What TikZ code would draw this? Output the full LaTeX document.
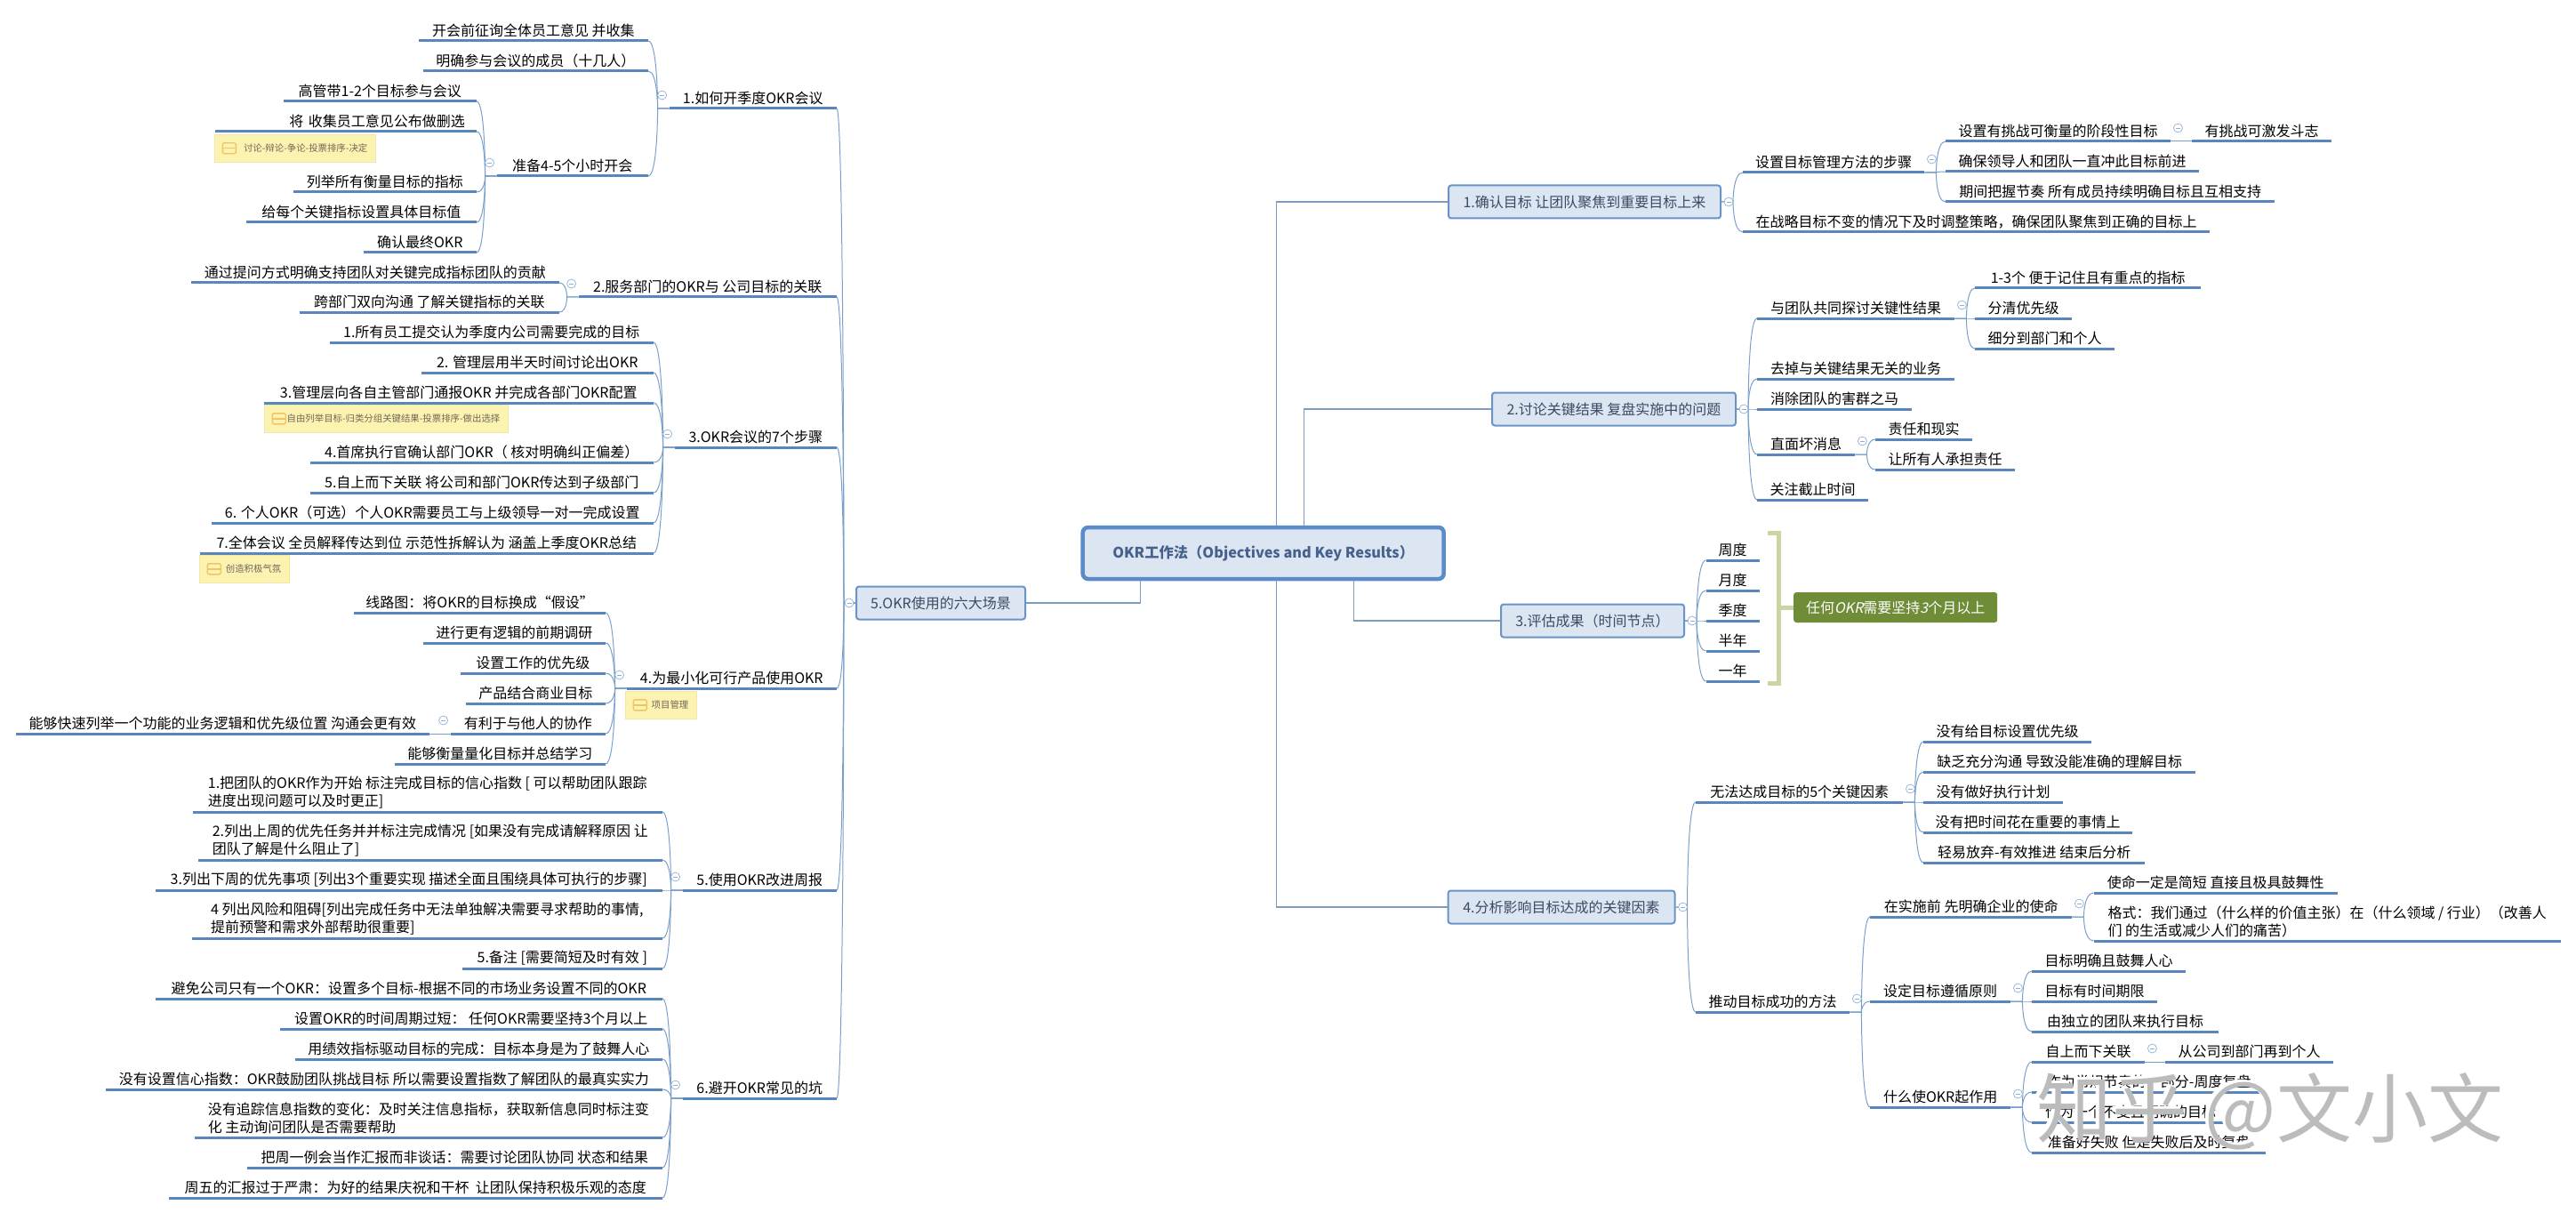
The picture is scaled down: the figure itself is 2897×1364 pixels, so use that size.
\documentclass[tikz,border=0pt]{standalone}
\usepackage{fontspec}
\setmainfont{Noto Sans CJK SC}
\newfontfamily\slantfont{Noto Sans CJK SC}[FakeSlant=0.2]
\definecolor{underl}{HTML}{5A86BE}
\definecolor{linkc}{HTML}{7A9FCA}
\definecolor{rootc}{HTML}{7E9CBF}
\definecolor{boxfill}{HTML}{DCE6F3}
\definecolor{boxline}{HTML}{6A93C6}
\definecolor{rootline}{HTML}{5B8BC9}
\definecolor{boxtext}{HTML}{3B4A63}
\definecolor{roottext}{HTML}{46618C}
\definecolor{notefill}{HTML}{FDF3B0}
\definecolor{noteline}{HTML}{F3E7A5}
\definecolor{notetext}{HTML}{6E675A}
\definecolor{noteicon}{HTML}{EFC468}
\definecolor{foldc}{HTML}{8FB0D6}
\definecolor{bracketc}{HTML}{C9D6A3}
\definecolor{summaryc}{HTML}{6F8C37}
\definecolor{markc}{HTML}{BCBCBC}

\begin{document}
\begin{tikzpicture}[x=1pt, y=-1pt,
  leaf/.style={inner xsep=13, inner ysep=4, text=black, font=\fontsize{16}{20}\selectfont,
    append after command={\pgfextra{\draw[line width=3, underl] (\tikzlastnode.south west) -- (\tikzlastnode.south east);}}},
  leafl/.style={leaf, anchor=south east},
  leafr/.style={leaf, anchor=south west},
  w/.style={minimum width=#1},
  topic/.style={draw=boxline, fill=boxfill, line width=2, rounded corners=3, minimum height=37,
    text=boxtext, font=\fontsize{16}{20}\selectfont},
  rootbox/.style={draw=rootline, fill=boxfill, line width=4.5, rounded corners=6, minimum width=406, minimum height=58,
    text=roottext, font=\fontsize{16.3}{20}\selectfont\bfseries},
  notebox/.style={anchor=north west, draw=noteline, fill=notefill, line width=.6, minimum height=31, inner xsep=9, inner ysep=0,
    align=right, text=notetext, font=\fontsize{10.4}{13}\selectfont,
    path picture={\draw[noteicon, line width=1.4, rounded corners=1.5] ([shift={(9,-6)}]path picture bounding box.west) rectangle ([shift={(24,6)}]path picture bounding box.west);
      \draw[noteicon, line width=1.4] ([xshift=9]path picture bounding box.west) -- ([xshift=24]path picture bounding box.west);}},
  fold/.style={circle, draw=foldc, fill=white, line width=.7, minimum size=10, inner sep=0,
    path picture={\draw[foldc, line width=.7] ([xshift=2.5]path picture bounding box.west) -- ([xshift=-2.5]path picture bounding box.east);}},
  link/.style={draw=linkc, line width=1},
  tol/.style={link, to path={-- ([xshift=-13]\tikztostart) .. controls ([xshift=-13]\tikztostart) and ([xshift=-13]\tikztostart |- \tikztotarget) .. (\tikztotarget)}},
  tor/.style={link, to path={-- ([xshift=13]\tikztostart) .. controls ([xshift=13]\tikztostart) and ([xshift=13]\tikztostart |- \tikztotarget) .. (\tikztotarget)}},
  rootlink/.style={draw=rootc, line width=1.2},
  bracket/.style={draw=bracketc, line width=5},
]
  \useasboundingbox (0,0) rectangle (2897,1364);

  \node[rootbox] (root) at (1420.7,622) {OKR工作法（Objectives and Key Results）};

  \node[topic, w=306] (N1) at (1782,227) {1.确认目标 让团队聚焦到重要目标上来};
  \node[topic, w=274] (N2) at (1815,460) {2.讨论关键结果 复盘实施中的问题};
  \node[topic, w=206] (N3) at (1791,698) {3.评估成果（时间节点）};
  \node[topic, w=255] (N4) at (1756,1020) {4.分析影响目标达成的关键因素};
  \node[topic, w=190] (N5) at (1058,678) {5.OKR使用的六大场景};

  \node[leafl, w=188] (Q1) at (941,122) {1.如何开季度OKR会议};
  \node[leafl, w=258] (Q1a) at (729,46) {开会前征询全体员工意见 并收集};
  \node[leafl, w=253] (Q1b) at (729,80) {明确参与会议的成员（十几人）};
  \node[leafl, w=170] (Q1c) at (729,198) {准备4-5个小时开会};
  \node[leafl, w=217] (Q1c1) at (536,114) {高管带1-2个目标参与会议};
  \node[leafl, text width=268, align=right] (Q1c2) at (536,148) {将 收集员工意见公布做删选};
  \node[notebox, text width=163] (T1) at (241,151) {讨论-辩论-争论-投票排序-决定};
  \node[leafl, w=206] (Q1c3) at (536,216) {列举所有衡量目标的指标};
  \node[leafl, w=259] (Q1c4) at (536,250) {给每个关键指标设置具体目标值};
  \node[leafl, w=127] (Q1c5) at (536,284) {确认最终OKR};

  \node[leafl, w=290] (Q2) at (941,334) {2.服务部门的OKR与 公司目标的关联};
  \node[leafl, w=414] (Q2a) at (629,318) {通过提问方式明确支持团队对关键完成指标团队的贡献};
  \node[leafl, w=292] (Q2b) at (629,351) {跨部门双向沟通 了解关键指标的关联};

  \node[leafl, w=182] (Q3) at (941,503) {3.OKR会议的7个步骤};
  \node[leafl, w=364] (Q3a) at (735,385) {1.所有员工提交认为季度内公司需要完成的目标};
  \node[leafl, w=261] (Q3b) at (735,419) {2. 管理层用半天时间讨论出OKR};
  \node[leafl, w=438] (Q3c) at (735,453) {3.管理层向各自主管部门通报OKR 并完成各部门OKR配置};
  \node[notebox, text width=256] (T2) at (297,455) {自由列举目标-归类分组关键结果-投票排序-做出选择};
  \node[leafl, w=386] (Q3d) at (735,520) {4.首席执行官确认部门OKR（ 核对明确纠正偏差）};
  \node[leafl, w=386] (Q3e) at (735,554) {5.自上而下关联 将公司和部门OKR传达到子级部门};
  \node[leafl, w=497] (Q3f) at (735,588) {6. 个人OKR（可选）个人OKR需要员工与上级领导一对一完成设置};
  \node[leafl, w=510] (Q3g) at (735,622) {7.全体会议 全员解释传达到位 示范性拆解认为 涵盖上季度OKR总结};
  \node[notebox, text width=83] (T3) at (224,624) {创造积极气氛};

  \node[leafl, w=236] (Q4) at (941,774) {4.为最小化可行产品使用OKR};
  \node[notebox, text width=62] (T4) at (703,777) {项目管理};
  \node[leafl, w=270] (Q4a) at (681,689) {线路图：将OKR的目标换成“假设”};
  \node[leafl, w=205] (Q4b) at (681,723) {进行更有逻辑的前期调研};
  \node[leafl, w=163] (Q4c) at (681,757) {设置工作的优先级};
  \node[leafl, w=157] (Q4d) at (681,791) {产品结合商业目标};
  \node[leafl, w=174] (Q4e) at (681,825) {有利于与他人的协作};
  \node[leafl, w=465] (Q4e1) at (483,825) {能够快速列举一个功能的业务逻辑和优先级位置 沟通会更有效};
  \node[leafl, w=237] (Q4f) at (681,859) {能够衡量量化目标并总结学习};

  \node[leafl, w=173] (Q5) at (941,1001) {5.使用OKR改进周报};
  \node[leafl, w=528, align=left] (Q5a) at (745,913) {1.把团队的OKR作为开始 标注完成目标的信心指数 [ 可以帮助团队跟踪\\进度出现问题可以及时更正]};
  \node[leafl, w=522, align=left] (Q5b) at (745,967) {2.列出上周的优先任务并并标注完成情况 [如果没有完成请解释原因 让\\团队了解是什么阻止了]};
  \node[leafl, w=570] (Q5c) at (745,1001) {3.列出下周的优先事项 [列出3个重要实现 描述全面且围绕具体可执行的步骤]};
  \node[leafl, w=529, align=left] (Q5d) at (745,1055) {4 列出风险和阻碍[列出完成任务中无法单独解决需要寻求帮助的事情,\\提前预警和需求外部帮助很重要]};
  \node[leafl, w=225] (Q5e) at (745,1089) {5.备注 [需要简短及时有效 ]};

  \node[leafl, w=173] (Q6) at (941,1235) {6.避开OKR常见的坑};
  \node[leafl, w=570] (Q6a) at (745,1123) {避免公司只有一个OKR：设置多个目标-根据不同的市场业务设置不同的OKR};
  \node[leafl, w=430] (Q6b) at (745,1157) {设置OKR的时间周期过短： 任何OKR需要坚持3个月以上};
  \node[leafl, w=413] (Q6c) at (745,1191) {用绩效指标驱动目标的完成：目标本身是为了鼓舞人心};
  \node[leafl, w=626] (Q6d) at (745,1225) {没有设置信心指数：OKR鼓励团队挑战目标 所以需要设置指数了解团队的最真实实力};
  \node[leafl, w=526, align=left] (Q6e) at (745,1279) {没有追踪信息指数的变化：及时关注信息指标，获取新信息同时标注变\\化 主动询问团队是否需要帮助};
  \node[leafl, w=467] (Q6f) at (745,1313) {把周一例会当作汇报而非谈话：需要讨论团队协同 状态和结果};
  \node[leafl, w=555] (Q6g) at (745,1347) {周五的汇报过于严肃：为好的结果庆祝和干杯 \ 让团队保持积极乐观的态度};

  \node[leafr, w=204] (A1a) at (1960,194) {设置目标管理方法的步骤};
  \node[leafr, w=253] (A1a1) at (2188,159) {设置有挑战可衡量的阶段性目标};
  \node[leafr, w=157] (A1a1a) at (2465,159) {有挑战可激发斗志};
  \node[leafr, w=285] (A1a2) at (2188,193) {确保领导人和团队一直冲此目标前进};
  \node[leafr, w=370] (A1a3) at (2188,227) {期间把握节奏 所有成员持续明确目标且互相支持};
  \node[leafr, w=525] (A1b) at (1960,261) {在战略目标不变的情况下及时调整策略，确保团队聚焦到正确的目标上};

  \node[leafr, w=222] (A2a) at (1976,358) {与团队共同探讨关键性结果};
  \node[leafr, w=254] (A2a1) at (2221,324) {1-3个 便于记住且有重点的指标};
  \node[leafr, w=109] (A2a2) at (2221,358) {分清优先级};
  \node[leafr, w=157] (A2a3) at (2221,392) {细分到部门和个人};
  \node[leafr, w=222] (A2b) at (1976,426) {去掉与关键结果无关的业务};
  \node[leafr, w=174] (A2c) at (1976,460) {消除团队的害群之马};
  \node[leafr, w=110] (A2d) at (1976,511) {直面坏消息};
  \node[leafr, w=109] (A2d1) at (2109,494) {责任和现实};
  \node[leafr, w=157] (A2d2) at (2109,528) {让所有人承担责任};
  \node[leafr, w=125] (A2e) at (1976,562) {关注截止时间};

  \node[leafr, w=60] (A3a) at (1918.5,630) {周度};
  \node[leafr, w=60] (A3b) at (1918.5,664) {月度};
  \node[leafr, w=60] (A3c) at (1918.5,698) {季度};
  \node[leafr, w=60] (A3d) at (1918.5,732) {半年};
  \node[leafr, w=60] (A3e) at (1918.5,766) {一年};
  \node[anchor=west, fill=summaryc, rounded corners=3, minimum width=229, minimum height=34, text=white, font=\fontsize{16}{20}\selectfont] (S) at (2017,683) {任何{\slantfont OKR}需要坚持{\slantfont 3}个月以上};
  \coordinate (B) at (2000,683);

  \node[leafr, w=233] (A4a) at (1907,902) {无法达成目标的5个关键因素};
  \node[leafr, w=189] (A4a1) at (2163,834) {没有给目标设置优先级};
  \node[leafr, w=306] (A4a2) at (2163,868) {缺乏充分沟通 导致没能准确的理解目标};
  \node[leafr, w=157] (A4a3) at (2163,902) {没有做好执行计划};
  \node[leafr, w=235] (A4a4) at (2163,936) {没有把时间花在重要的事情上};
  \node[leafr, w=249] (A4a5) at (2163,970) {轻易放弃-有效推进 结束后分析};
  \node[leafr, w=173] (A4b) at (1907,1138) {推动目标成功的方法};
  \node[leafr, w=227] (A4b1) at (2103,1031) {在实施前 先明确企业的使命};
  \node[leafr, w=274] (A4b1a) at (2354.5,1004) {使命一定是简短 直接且极具鼓舞性};
  \node[leafr, w=525, align=left] (A4b1b) at (2354.5,1058) {格式：我们通过（什么样的价值主张）在（什么领域 / 行业）（改善人\\们 的生活或减少人们的痛苦）};
  \node[leafr, w=158] (A4b2) at (2103,1126) {设定目标遵循原则};
  \node[leafr, w=173] (A4b2a) at (2285,1092) {目标明确且鼓舞人心};
  \node[leafr, w=141] (A4b2b) at (2285,1126) {目标有时间期限};
  \node[leafr, w=210] (A4b2c) at (2285,1160) {由独立的团队来执行目标};
  \node[leafr, w=158] (A4b3) at (2103,1245) {什么使OKR起作用};
  \node[leafr, w=127] (A4b3a) at (2285,1194) {自上而下关联};
  \node[leafr, w=189] (A4b3a1) at (2435,1194) {从公司到部门再到个人};
  \node[leafr, w=263] (A4b3b) at (2285,1228) {作为常规节奏的一部分-周度复盘};
  \node[leafr, w=222] (A4b3c) at (2285,1262) {作为一个不变且明确的目标};
  \node[leafr, w=263] (A4b3d) at (2285,1296) {准备好失败 但是失败后及时复盘};

  \draw[rootlink] ([xshift=15]root.north) |- (N1.west);
  \draw[rootlink] ([xshift=46]root.north) |- (N2.west);
  \draw[rootlink] ([xshift=102]root.south) |- (N3.west);
  \draw[rootlink] ([xshift=15]root.south) |- (N4.west);
  \draw[rootlink] ([xshift=-138]root.south) |- (N5.east);

  \foreach \c in {Q1,Q2,Q3,Q4,Q5,Q6} \draw[tol] (N5.west) to (\c.south east);
  \foreach \c in {Q1a,Q1b,Q1c} \draw[tol] (Q1.south west) to (\c.south east);
  \foreach \c in {Q1c1,Q1c2,Q1c3,Q1c4,Q1c5} \draw[tol] (Q1c.south west) to (\c.south east);
  \foreach \c in {Q2a,Q2b} \draw[tol] (Q2.south west) to (\c.south east);
  \foreach \c in {Q3a,Q3b,Q3c,Q3d,Q3e,Q3f,Q3g} \draw[tol] (Q3.south west) to (\c.south east);
  \foreach \c in {Q4a,Q4b,Q4c,Q4d,Q4e,Q4f} \draw[tol] (Q4.south west) to (\c.south east);
  \draw[link] (Q4e.south west) -- (Q4e1.south east);
  \foreach \c in {Q5a,Q5b,Q5c,Q5d,Q5e} \draw[tol] (Q5.south west) to (\c.south east);
  \foreach \c in {Q6a,Q6b,Q6c,Q6d,Q6e,Q6f,Q6g} \draw[tol] (Q6.south west) to (\c.south east);

  \foreach \c in {A1a,A1b} \draw[tor] (N1.east) to (\c.south west);
  \foreach \c in {A1a1,A1a2,A1a3} \draw[tor] (A1a.south east) to (\c.south west);
  \draw[link] (A1a1.south east) -- (A1a1a.south west);
  \foreach \c in {A2a,A2b,A2c,A2d,A2e} \draw[tor] (N2.east) to (\c.south west);
  \foreach \c in {A2a1,A2a2,A2a3} \draw[tor] (A2a.south east) to (\c.south west);
  \foreach \c in {A2d1,A2d2} \draw[tor] (A2d.south east) to (\c.south west);
  \foreach \c in {A3a,A3b,A3c,A3d,A3e} \draw[tor] (N3.east) to (\c.south west);
  \foreach \c in {A4a,A4b} \draw[tor] (N4.east) to (\c.south west);
  \foreach \c in {A4a1,A4a2,A4a3,A4a4,A4a5} \draw[tor] (A4a.south east) to (\c.south west);
  \foreach \c in {A4b1,A4b2,A4b3} \draw[tor] (A4b.south east) to (\c.south west);
  \foreach \c in {A4b1a,A4b1b} \draw[tor] (A4b1.south east) to (\c.south west);
  \foreach \c in {A4b2a,A4b2b,A4b2c} \draw[tor] (A4b2.south east) to (\c.south west);
  \foreach \c in {A4b3a,A4b3b,A4b3c,A4b3d} \draw[tor] (A4b3.south east) to (\c.south west);
  \draw[link] (A4b3a.south east) -- (A4b3a1.south west);

  \draw[bracket] ([xshift=-12,yshift=84]B) -- ([yshift=84]B) -- ([yshift=-85]B) -- ([xshift=-12,yshift=-85]B);
  \draw[bracket] (B) -- (S.west);

  \foreach \p in {Q1,Q1c,Q2,Q3,Q4,Q4e,Q5,Q6}
    \node[fold] (fold\p) at ([shift={(-8,-15)}]\p.south west) {};
  \foreach \p in {A1a,A1a1,A2a,A2d,A4a,A4b,A4b1,A4b2,A4b3,A4b3a}
    \node[fold] (fold\p) at ([shift={(8,-15)}]\p.south east) {};
  \foreach \p in {N1,N2,N3,N4}
    \node[fold] (fold\p) at ([xshift=8]\p.east) {};
  \node[fold] (foldN5) at ([xshift=-7]N5.west) {};

  \node[text=white, font=\fontsize{85}{90}\selectfont] (markback) at (2549,1247) {知乎 @文小文};
  \node[text=markc, font=\fontsize{85}{90}\selectfont] (mark) at (2553,1250) {知乎 @文小文};
\end{tikzpicture}
\end{document}
